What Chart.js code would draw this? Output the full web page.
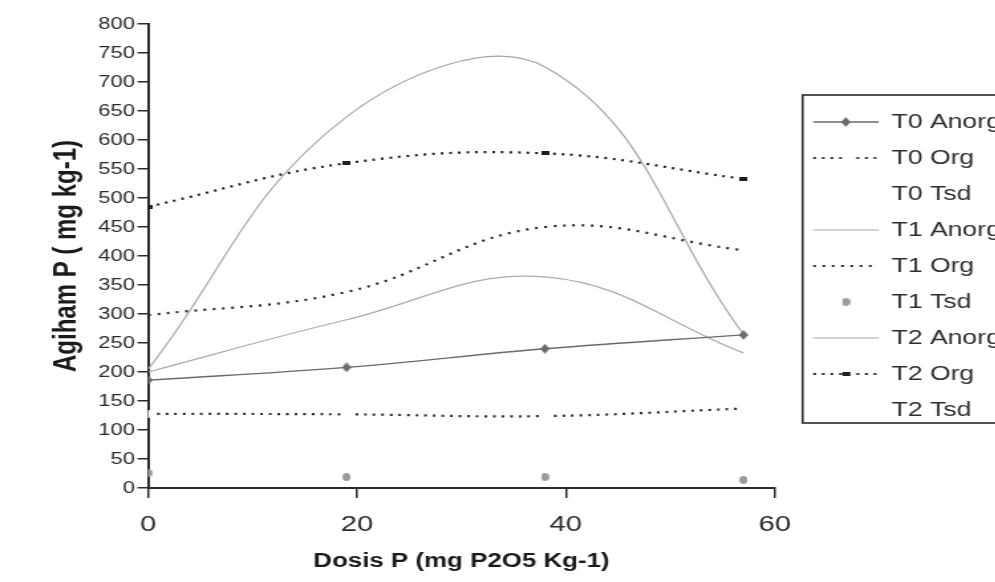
<!DOCTYPE html>
<html>
<head>
<meta charset="utf-8">
<script src="https://cdn.jsdelivr.net/npm/chart.js@4.4.1/dist/chart.umd.min.js"></script>
<style>
  html, body { margin: 0; padding: 0; background: #fff; overflow: hidden; }
  #wrap { width: 995px; height: 582px; overflow: hidden; }
  #chart { display: block; }
</style>
</head>
<body>
<div id="wrap">
  <!-- the scanned figure has horizontally stretched text, so the canvas is drawn narrow and widened -->
  <canvas id="chart" width="764" height="582" style="width:1013.6px;height:582px"></canvas>
</div>
<script>
const doses = [0, 19, 38, 57];
const t0Anorg = [186, 208, 240, 264];
const t0Org = [128, 127, 124, 137];
const t0Tsd = [null, null, null, null];
const t1Anorg = [200, 290, 364, 233];
const t1Org = [298, 338, 450, 410];
const t1Tsd = [26, 19, 19, 14];
const t2Anorg = [205, 640, 726, 265];
const t2Org = [485, 560, 577, 533];
const t2Tsd = [null, null, null, null];
const xTicks = [0, 20, 40, 60];
const yTicks = [0, 50, 100, 150, 200, 250, 300, 350, 400, 450, 500, 550, 600, 650, 700, 750, 800];

const FONT = "'Liberation Sans', Arial, sans-serif";
const INK = '#2b2b2b';

const pts = vals => doses.map((d, i) => ({x: d, y: vals[i]}));

// small marker images, narrower than tall so they look right after the stretch
function marker(shape, w, h, color) {
  const c = document.createElement('canvas');
  c.width = w; c.height = h;
  const g = c.getContext('2d');
  g.fillStyle = color;
  g.beginPath();
  if (shape === 'diamond') {
    g.moveTo(w / 2, 0); g.lineTo(w, h / 2); g.lineTo(w / 2, h); g.lineTo(0, h / 2);
  } else if (shape === 'dot') {
    g.ellipse(w / 2, h / 2, w / 2, h / 2, 0, 0, Math.PI * 2);
  } else {
    g.rect(0, 0, w, h);
  }
  g.fill();
  return c;
}

const diamond = marker('diamond', 7, 10, '#6a6a6a');
const greyDot = marker('dot', 6, 8, '#9a9a9a');
const whiteDot = marker('dot', 6, 8, '#ffffff');
const dash = marker('rect', 6, 4, '#1e1e1e');

const datasets = [
  {label: 'T0 Anorg', data: pts(t0Anorg), borderColor: '#6a6a6a', borderWidth: 1.4,
   pointStyle: diamond, pointRadius: 5},
  {label: 'T0 Org', data: pts(t0Org), borderColor: '#2a2a2a', borderWidth: 2.2,
   borderDash: [2, 4.5], pointStyle: whiteDot, pointRadius: 4},
  {label: 'T0 Tsd', data: pts(t0Tsd), showLine: false, borderWidth: 0, pointRadius: 0},
  {label: 'T1 Anorg', data: pts(t1Anorg), borderColor: '#ababab', borderWidth: 1.2, pointRadius: 0},
  {label: 'T1 Org', data: pts(t1Org), borderColor: '#262626', borderWidth: 2.2,
   borderDash: [2, 5], pointRadius: 0},
  {label: 'T1 Tsd', data: pts(t1Tsd), showLine: false, borderWidth: 0,
   pointStyle: greyDot, pointRadius: 4},
  {label: 'T2 Anorg', data: pts(t2Anorg), borderColor: '#a6a6a6', borderWidth: 1.2, pointRadius: 0},
  {label: 'T2 Org', data: pts(t2Org), borderColor: '#1e1e1e', borderWidth: 2.2,
   borderDash: [2, 4.5], pointStyle: dash, pointRadius: 4},
  {label: 'T2 Tsd', data: pts(t2Tsd), showLine: false, borderWidth: 0, pointRadius: 0}
];
datasets.forEach(ds => { ds.tension = 0.4; ds.fill = false; ds.backgroundColor = ds.borderColor; });

// legend sample: short line (offset to the right) with the marker in the middle
function sample(ds) {
  const c = document.createElement('canvas');
  c.width = 62; c.height = 14;
  const g = c.getContext('2d');
  if (ds.showLine !== false && ds.borderWidth) {
    g.strokeStyle = ds.borderColor;
    g.lineWidth = ds.borderWidth;
    g.setLineDash(ds.borderDash || []);
    g.beginPath(); g.moveTo(13, 7); g.lineTo(62, 7); g.stroke();
  }
  if (ds.pointRadius && ds.pointStyle) {
    const m = ds.pointStyle;
    g.drawImage(m, 37.5 - m.width / 2, 7 - m.height / 2);
  }
  return c;
}

const legendFrame = {
  id: 'legendFrame',
  afterDraw(chart) {
    const lg = chart.legend;
    const hb = lg.legendHitBoxes;
    if (!hb || !hb.length) return;
    const last = hb[hb.length - 1];
    const top = hb[0].top - 17;
    const bottom = last.top + last.height + 3;
    const ctx = chart.ctx;
    ctx.save();
    ctx.strokeStyle = '#2a2a2a';
    ctx.lineWidth = 1.6;
    ctx.strokeRect(lg.left + 21, top, chart.width, bottom - top);
    ctx.restore();
  }
};

new Chart(document.getElementById('chart'), {
  type: 'line',
  data: {datasets},
  options: {
    responsive: false,
    animation: false,
    devicePixelRatio: 1,
    layout: {padding: {top: 24, left: 0, right: 0, bottom: 0}},
    plugins: {
      tooltip: {enabled: false},
      legend: {
        position: 'right',
        align: 'start',
        fullSize: false,
        title: {display: true, text: '', font: {size: 12}, padding: {top: 0, bottom: 57.6}},
        labels: {
          color: '#2e2e2e',
          font: {family: FONT, size: 20},
          padding: 16,
          usePointStyle: true,
          pointStyleWidth: 62,
          generateLabels(chart) {
            return Chart.defaults.plugins.legend.labels.generateLabels(chart).map((item, i) => {
              item.pointStyle = sample(chart.data.datasets[i]);
              return item;
            });
          }
        }
      }
    },
    scales: {
      x: {
        type: 'linear',
        min: 0,
        max: 60,
        afterBuildTicks: s => { s.ticks = xTicks.map(v => ({value: v})); },
        afterFit: s => { s.height = 94; },
        grid: {drawOnChartArea: false, drawTicks: true, tickLength: 10, color: '#2a2a2a', lineWidth: 1.5},
        border: {color: '#2a2a2a', width: 2},
        ticks: {color: INK, font: {family: FONT, size: 22}, padding: 14, maxRotation: 0},
        title: {display: true, text: 'Dosis P (mg P2O5 Kg-1)', color: '#1a1a1a',
                font: {family: FONT, size: 19.5, weight: 'bold'}, padding: {top: 0, bottom: 8.5}}
      },
      y: {
        min: 0,
        max: 800,
        afterBuildTicks: s => { s.ticks = yTicks.map(v => ({value: v})); },
        afterFit: s => { s.width = 111.6; },
        grid: {drawOnChartArea: false, drawTicks: true, tickLength: 8, color: '#2a2a2a', lineWidth: 1.5},
        border: {color: '#2a2a2a', width: 2},
        ticks: {color: INK, font: {family: FONT, size: 16.5}, padding: 2},
        title: {display: true, text: 'Agiham P ( mg kg-1)', color: '#1a1a1a',
                font: {family: FONT, size: 24, weight: 'bold'}, padding: {top: 36, bottom: 0}}
      }
    }
  },
  plugins: [legendFrame]
});
</script>
</body>
</html>
